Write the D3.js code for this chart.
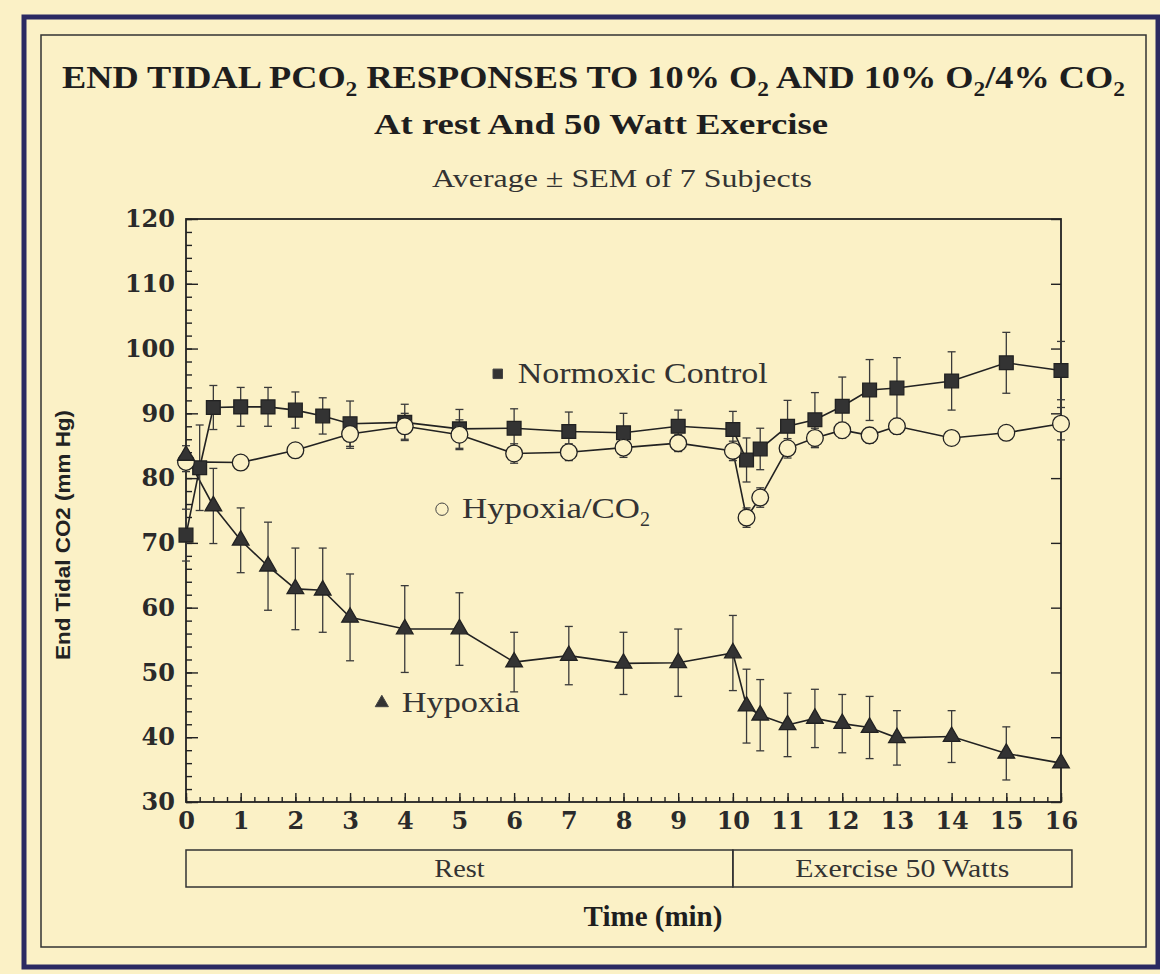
<!DOCTYPE html>
<html>
<head>
<meta charset="utf-8">
<script src="https://cdn.jsdelivr.net/npm/d3@7"></script>
<style>
	body { margin: 0; background: #fbf1c6; }
	svg { display: block; }
	.serif { font-family: "Liberation Serif", "DejaVu Serif", serif; fill: #1e1e1e; }
	.tick_num { font-family: "DejaVu Serif", serif; font-weight: bold; fill: #2a2a2a; }
</style>
</head>
<body>
<figure id="etco2" style="margin:0"></figure>
<script>

// time points (min) and values for each group
var normTime = [ 0, 0.25, 0.5, 1, 1.5, 2, 2.5, 3, 4, 5, 6, 7, 8, 9, 10, 10.25, 10.5, 11, 11.5, 12, 12.5, 13, 14, 15, 16 ];
var normMean = [ 71.2, 81.6, 90.9, 91.0, 91.0, 90.5, 89.6, 88.4, 88.6, 87.6, 87.7, 87.2, 87.0, 88.0, 87.5, 82.8, 84.5, 88.0, 89.0, 91.1, 93.6, 93.9, 95.0, 97.8, 96.6 ];
var normSem  = [ 4.0, 6.6, 3.4, 3.0, 3.0, 2.8, 2.8, 3.5, 2.8, 3.0, 3.0, 3.0, 3.0, 2.5, 2.8, 3.4, 3.2, 4.0, 4.2, 4.5, 4.7, 4.7, 4.5, 4.7, 4.5 ];

var hcTime = [ 0, 1, 2, 3, 4, 5, 6, 7, 8, 9, 10, 10.25, 10.5, 11, 11.5, 12, 12.5, 13, 14, 15, 16 ];
var hcMean = [ 82.5, 82.4, 84.3, 86.8, 88.0, 86.7, 83.8, 84.0, 84.7, 85.4, 84.2, 73.9, 77.0, 84.6, 86.2, 87.4, 86.6, 88.0, 86.2, 87.0, 88.4 ];
var hcSem  = [ 1.5, 1.0, 1.0, 2.2, 2.0, 2.3, 1.5, 1.3, 1.5, 1.3, 1.5, 1.5, 1.5, 1.5, 1.5, 1.2, 1.2, 1.2, 1.0, 1.0, 2.5 ];

var hypTime = [ 0, 0.5, 1, 1.5, 2, 2.5, 3, 4, 5, 6, 7, 8, 9, 10, 10.25, 10.5, 11, 11.5, 12, 12.5, 13, 14, 15, 16 ];
var hypMean = [ 83.5, 75.7, 70.4, 66.4, 62.9, 62.7, 58.5, 56.7, 56.7, 51.6, 52.6, 51.4, 51.5, 53.0, 44.8, 43.4, 41.9, 42.9, 42.1, 41.5, 39.9, 40.1, 37.5, 36.0 ];
var hypSem  = [ 1.5, 5.8, 5.0, 6.8, 6.3, 6.5, 6.7, 6.7, 5.6, 4.6, 4.5, 4.8, 5.2, 5.8, 5.7, 5.5, 4.9, 4.5, 4.5, 4.8, 4.2, 4.0, 4.1, 0 ];

// axis ticks
var yMajorTicks = [ 30, 40, 50, 60, 70, 80, 90, 100, 110, 120 ];
var xMajorTicks = [ 0, 1, 2, 3, 4, 5, 6, 7, 8, 9, 10, 11, 12, 13, 14, 15, 16 ];

// phase bar under the x axis
var phaseNames = [ "Rest", "Exercise 50 Watts" ];
var phaseStart = [ 0, 10 ];
var phaseEnd = [ 10, 16.2 ];

var dimensions = {
	width: 1160,
	height: 974,
	margin: {
		top: 219,
		right: 99,
		bottom: 172,
		left: 186,
	}
};
dimensions.boundedWidth = dimensions.width - dimensions.margin.left - dimensions.margin.right
dimensions.boundedHeight = dimensions.height - dimensions.margin.top - dimensions.margin.bottom

var paper = "#fbf1c6";
var ink = "#222";

var root = d3.select( "figure#etco2" )
	.append( "svg" )
	.attr( "width", dimensions.width )
	.attr( "height", dimensions.height );

root.append( "rect" )
	.attr( "width", dimensions.width )
	.attr( "height", dimensions.height )
	.attr( "fill", paper );

// scanned page frame: heavy navy outer line, thin inner line
root.append( "rect" )
	.attr( "x", 24 ).attr( "y", 17 )
	.attr( "width", 1134 ).attr( "height", 950 )
	.attr( "fill", "none" )
	.attr( "stroke", "#2b2a62" )
	.attr( "stroke-width", 5 );
root.append( "rect" )
	.attr( "x", 41 ).attr( "y", 35 )
	.attr( "width", 1105 ).attr( "height", 912 )
	.attr( "fill", "none" )
	.attr( "stroke", "#333" )
	.attr( "stroke-width", 1.5 );

// titles (subscripts done with tspans)
var title = root.append( "text" )
	.attr( "class", "serif" )
	.attr( "x", 62 ).attr( "y", 88 )
	.attr( "textLength", 1063 )
	.attr( "lengthAdjust", "spacingAndGlyphs" )
	.style( "font-size", "31px" )
	.style( "font-weight", "bold" );

var titleParts = [ [ "END TIDAL PCO", false ], [ "2", true ], [ " RESPONSES TO 10% O", false ], [ "2", true ],
	[ " AND 10% O", false ], [ "2", true ], [ "/4% CO", false ], [ "2", true ] ];
titleParts.forEach( function( p, i ) {
	title.append( "tspan" )
		.attr( "dy", p[1] ? 8 : ( i > 0 ? -8 : 0 ) )
		.style( "font-size", p[1] ? "20px" : null )
		.text( p[0] );
} );

root.append( "text" )
	.attr( "class", "serif" )
	.attr( "x", 601 ).attr( "y", 134 )
	.attr( "text-anchor", "middle" )
	.attr( "textLength", 454 )
	.attr( "lengthAdjust", "spacingAndGlyphs" )
	.style( "font-size", "29px" )
	.style( "font-weight", "bold" )
	.text( "At rest And 50 Watt Exercise" );

root.append( "text" )
	.attr( "class", "serif" )
	.attr( "x", 622 ).attr( "y", 187 )
	.attr( "text-anchor", "middle" )
	.attr( "textLength", 380 )
	.attr( "lengthAdjust", "spacingAndGlyphs" )
	.style( "font-size", "25px" )
	.style( "fill", "#333" )
	.text( "Average ± SEM of 7 Subjects" );

var svg = root.append( "g" )
	.attr( "transform", `translate(${dimensions.margin.left},${dimensions.margin.top})` );

var xScale = d3.scaleLinear()
	.domain( [ 0, 16 ] )
	.range( [ 0, dimensions.boundedWidth ] );

var yScale = d3.scaleLinear()
	.domain( [ 30, 120 ] )
	.range( [ dimensions.boundedHeight, 0 ] );

// plot frame
svg.append( "rect" )
	.attr( "width", xScale( 16 ) )
	.attr( "height", dimensions.boundedHeight )
	.attr( "fill", "none" )
	.attr( "stroke", ink )
	.attr( "stroke-width", 1.8 );

// minor ticks, pointing into the plot
svg.append( "g" )
	.call( d3.axisLeft( yScale ).tickValues( d3.range( 30, 121, 2 ) ).tickSize( -6 ).tickSizeOuter( 0 ).tickFormat( "" ) )
	.call( g => g.select( ".domain" ).remove() );
svg.append( "g" )
	.attr( "transform", `translate(0, ${dimensions.boundedHeight})` )
	.call( d3.axisBottom( xScale ).tickValues( d3.range( 0, 16.01, 0.25 ) ).tickSize( -5 ).tickSizeOuter( 0 ).tickFormat( "" ) )
	.call( g => g.select( ".domain" ).remove() );

// major ticks with labels
var yAxis = svg.append( "g" )
	.attr( "class", "y_axis" )
	.call( d3.axisLeft( yScale ).tickValues( yMajorTicks ).tickSize( -12 ).tickSizeOuter( 0 ).tickPadding( 11 ) )
	.call( g => g.select( ".domain" ).remove() );

var xAxis = svg.append( "g" )
	.attr( "class", "x_axis" )
	.attr( "transform", `translate(0, ${dimensions.boundedHeight})` )
	.call( d3.axisBottom( xScale ).tickValues( xMajorTicks ).tickSize( -9 ).tickSizeOuter( 0 ).tickPadding( 10 ) )
	.call( g => g.select( ".domain" ).remove() );

// right side only has the 10 unit ticks
svg.append( "g" )
	.attr( "transform", `translate(${xScale( 16 )}, 0)` )
	.call( d3.axisRight( yScale ).tickValues( yMajorTicks ).tickSize( -10 ).tickSizeOuter( 0 ).tickFormat( "" ) )
	.call( g => g.select( ".domain" ).remove() );

svg.selectAll( ".tick line" )
	.attr( "stroke", ink )
	.attr( "stroke-width", 1.4 );

yAxis.selectAll( "text" )
	.attr( "class", "tick_num" )
	.style( "font-size", "24px" );
xAxis.selectAll( "text" )
	.attr( "class", "tick_num" )
	.style( "font-size", "24px" );

// y axis title
root.append( "text" )
	.attr( "transform", "translate(70, 535) rotate(-90)" )
	.attr( "text-anchor", "middle" )
	.attr( "textLength", 250 )
	.attr( "lengthAdjust", "spacingAndGlyphs" )
	.style( "font-family", "'Liberation Sans', Arial, sans-serif" )
	.style( "font-weight", "bold" )
	.style( "font-size", "20px" )
	.style( "fill", "#222" )
	.text( "End Tidal CO2 (mm Hg)" );

// series
var series = [
	{ name: "norm", data: d3.zip( normTime, normMean, normSem ), symbol: d3.symbolSquare, size: 190, fill: "#333" },
	{ name: "hc", data: d3.zip( hcTime, hcMean, hcSem ), symbol: d3.symbolCircle, size: 220, fill: paper },
	{ name: "hyp", data: d3.zip( hypTime, hypMean, hypSem ), symbol: d3.symbolTriangle, size: 120, fill: "#333" }
];

var line = d3.line()
	.x( d => xScale( d[0] ) )
	.y( d => yScale( d[1] ) );

series.forEach( function( s ) {
	svg.append( "path" )
		.datum( s.data )
		.attr( "d", line )
		.attr( "fill", "none" )
		.attr( "stroke", ink )
		.attr( "stroke-width", 1.6 );
} );

// error bars go under the markers
series.forEach( function( s ) {
	var bars = svg.append( "g" )
		.selectAll( "g" )
		.data( s.data.filter( d => d[2] > 0 ) )
		.enter()
		.append( "g" )
		.attr( "stroke", "#3a3a3a" )
		.attr( "stroke-width", 1.3 );
	bars.append( "line" )
		.attr( "x1", d => xScale( d[0] ) ).attr( "x2", d => xScale( d[0] ) )
		.attr( "y1", d => yScale( d[1] - d[2] ) ).attr( "y2", d => yScale( d[1] + d[2] ) );
	[ 1, -1 ].forEach( function( k ) {
		bars.append( "line" )
			.attr( "x1", d => xScale( d[0] ) - 4 ).attr( "x2", d => xScale( d[0] ) + 4 )
			.attr( "y1", d => yScale( d[1] + k * d[2] ) ).attr( "y2", d => yScale( d[1] + k * d[2] ) );
	} );
} );

series.forEach( function( s ) {
	svg.append( "g" )
		.selectAll( "path" )
		.data( s.data )
		.enter()
		.append( "path" )
		.attr( "transform", d => `translate(${xScale( d[0] )},${yScale( d[1] )})` )
		.attr( "d", d3.symbol().type( s.symbol ).size( s.size ) )
		.attr( "fill", s.fill )
		.attr( "stroke", "#222" )
		.attr( "stroke-width", 1.3 );
} );

// in-plot labels
var labels = [
	{ sym: d3.symbolSquare, size: 90, fill: "#333", t: 6.03, v: 96.1, text: "Normoxic Control", width: 250, sub: null },
	{ sym: d3.symbolCircle, size: 120, fill: paper, t: 5.01, v: 75.2, text: "Hypoxia/CO", width: 178, sub: "2" },
	{ sym: d3.symbolTriangle, size: 75, fill: "#333", t: 3.91, v: 45.3, text: "Hypoxia", width: 118, sub: null }
];
labels.forEach( function( l ) {
	svg.append( "path" )
		.attr( "transform", `translate(${xScale( l.t ) - 18},${yScale( l.v )})` )
		.attr( "d", d3.symbol().type( l.sym ).size( l.size ) )
		.attr( "fill", l.fill )
		.attr( "stroke", "#444" );
	var txt = svg.append( "text" )
		.attr( "class", "serif" )
		.attr( "x", xScale( l.t ) + 2 )
		.attr( "y", yScale( l.v ) + 9 )
		.style( "font-size", "30px" )
		.style( "fill", "#333" );
	txt.append( "tspan" )
		.attr( "textLength", l.width )
		.attr( "lengthAdjust", "spacingAndGlyphs" )
		.text( l.text );
	if ( l.sub ) {
		txt.append( "tspan" )
			.attr( "dy", 8 )
			.style( "font-size", "20px" )
			.text( l.sub );
	}
} );

// rest / exercise bar
var phaseY = dimensions.boundedHeight + 48;
svg.append( "g" )
	.selectAll( "rect" )
	.data( d3.zip( phaseNames, phaseStart, phaseEnd ) )
	.enter()
	.append( "rect" )
	.attr( "x", d => xScale( d[1] ) )
	.attr( "y", phaseY )
	.attr( "width", d => xScale( d[2] ) - xScale( d[1] ) )
	.attr( "height", 37 )
	.attr( "fill", "none" )
	.attr( "stroke", "#333" )
	.attr( "stroke-width", 1.5 );

svg.append( "g" )
	.selectAll( "text" )
	.data( d3.zip( phaseNames, phaseStart, phaseEnd ) )
	.enter()
	.append( "text" )
	.attr( "class", "serif" )
	.attr( "x", d => ( xScale( d[1] ) + xScale( d[2] ) ) / 2 )
	.attr( "y", phaseY + 27 )
	.attr( "text-anchor", "middle" )
	.attr( "textLength", d => d[0].length * 12.6 )
	.attr( "lengthAdjust", "spacingAndGlyphs" )
	.style( "font-size", "26px" )
	.style( "fill", "#333" )
	.text( d => d[0] );

root.append( "text" )
	.attr( "class", "serif" )
	.attr( "x", 653 ).attr( "y", 926 )
	.attr( "text-anchor", "middle" )
	.style( "font-size", "29px" )
	.style( "font-weight", "bold" )
	.text( "Time (min)" );

</script>
</body>
</html>
